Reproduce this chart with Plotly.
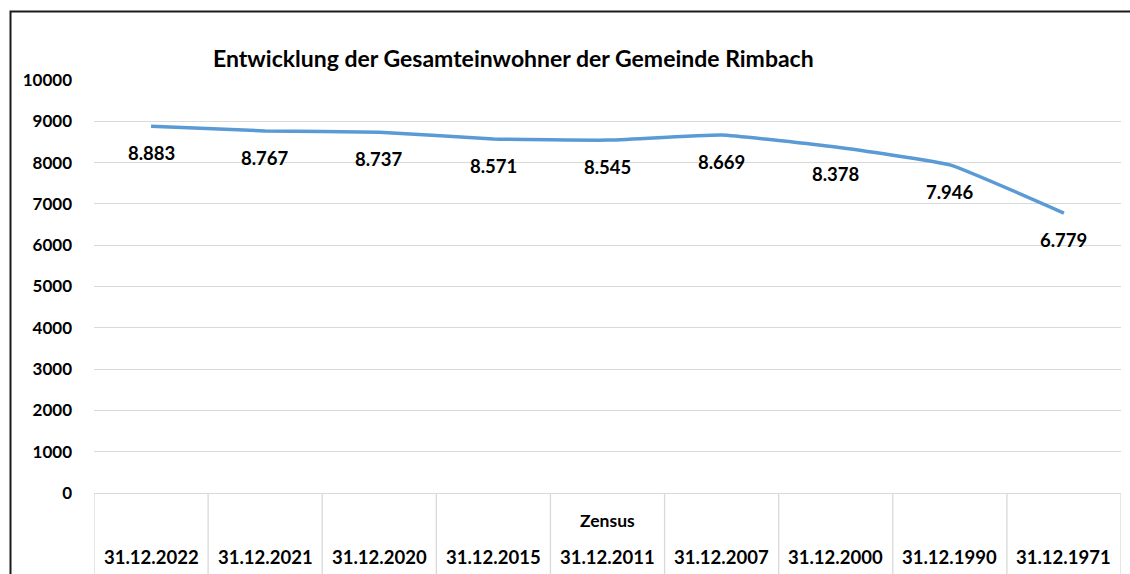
import plotly.graph_objects as go

# Einwohnerzahlen der Gemeinde Rimbach (Stichtage, neueste zuerst)
stichtage = ["31.12.2022", "31.12.2021", "31.12.2020", "31.12.2015", "31.12.2011",
             "31.12.2007", "31.12.2000", "31.12.1990", "31.12.1971"]
zusatz = ["", "", "", "", "Zensus", "", "", "", ""]
einwohner = [8883, 8767, 8737, 8571, 8545, 8669, 8378, 7946, 6779]
y_ticks = [0, 1000, 2000, 3000, 4000, 5000, 6000, 7000, 8000, 9000, 10000]

FONT = "Lato"
LINE_BLUE = "#5B9BD5"
GRID = "#D9D9D9"

W, H = 1130, 574
ML, MR, MT, MB = 94, 9, 80, 81
plot_w = W - ML - MR
plot_h = H - MT - MB


def px_x(px):
    return (px - ML) / plot_w


def px_y(py):
    return (H - MB - py) / plot_h


xs = list(range(len(stichtage)))

fig = go.Figure()
fig.add_trace(go.Scatter(
    x=xs, y=einwohner, mode="lines",
    line=dict(color=LINE_BLUE, width=3.5, shape="spline", smoothing=0.35),
    hoverinfo="skip", showlegend=False,
))

annotations = []
# Datenbeschriftungen unterhalb der Punkte (deutsches Tausendertrennzeichen)
for x, v in zip(xs, einwohner):
    annotations.append(dict(
        x=x, y=v, xref="x", yref="y", yshift=-27,
        text="<b>" + f"{v:,}".replace(",", ".") + "</b>", showarrow=False,
        font=dict(family=FONT, size=18.5, color="#000000"),
        xanchor="center", yanchor="middle",
    ))

# Kategorienbeschriftung in Tabellenform
for x, lab, extra in zip(xs, stichtage, zusatz):
    annotations.append(dict(
        x=x, y=px_y(557), xref="x", yref="paper", text=f"<b>{lab}</b>",
        showarrow=False, font=dict(family=FONT, size=18.5, color="#000000"),
        xanchor="center", yanchor="middle",
    ))
    if extra:
        annotations.append(dict(
            x=x, y=px_y(520), xref="x", yref="paper", text=f"<b>{extra}</b>",
            showarrow=False, font=dict(family=FONT, size=17.5, color="#000000"),
            xanchor="center", yanchor="middle",
        ))

# Diagrammtitel
annotations.append(dict(
    x=px_x(513.5), y=px_y(58), xref="paper", yref="paper",
    text="<b>Entwicklung der Gesamteinwohner der Gemeinde Rimbach</b>",
    showarrow=False, font=dict(family=FONT, size=23, color="#000000"),
    xanchor="center", yanchor="middle",
))

shapes = []
# senkrechte Trennlinien der Kategorientabelle
for i in range(len(stichtage) + 1):
    shapes.append(dict(
        type="line", xref="x", yref="paper",
        x0=i - 0.5, x1=i - 0.5, y0=0, y1=px_y(H + 5),
        line=dict(color=GRID, width=1.3),
    ))
# Rahmen um das Diagramm
shapes.append(dict(
    type="rect", xref="paper", yref="paper",
    x0=px_x(10.5), x1=px_x(W + 20), y0=px_y(H + 20), y1=px_y(11.5),
    line=dict(color="#1A1A1A", width=2), fillcolor="rgba(0,0,0,0)",
))

fig.update_layout(
    width=W, height=H,
    margin=dict(l=ML, r=MR, t=MT, b=MB, pad=0),
    paper_bgcolor="white", plot_bgcolor="white",
    font=dict(family=FONT, color="#000000"),
    annotations=annotations, shapes=shapes,
    xaxis=dict(range=[-0.5, len(stichtage) - 0.5], showticklabels=False,
               showgrid=False, zeroline=False, showline=True,
               linecolor=GRID, linewidth=1.3, ticks=""),
    yaxis=dict(range=[0, 10000], tickvals=y_ticks,
               ticktext=[f"<b>{t}</b>" for t in y_ticks],
               tickfont=dict(family=FONT, size=17, color="#000000"),
               showgrid=True, gridcolor=GRID, gridwidth=1.3,
               zeroline=False, showline=False, ticks="",
               ticklabelstandoff=21),
)

fig.write_html("out.html")
